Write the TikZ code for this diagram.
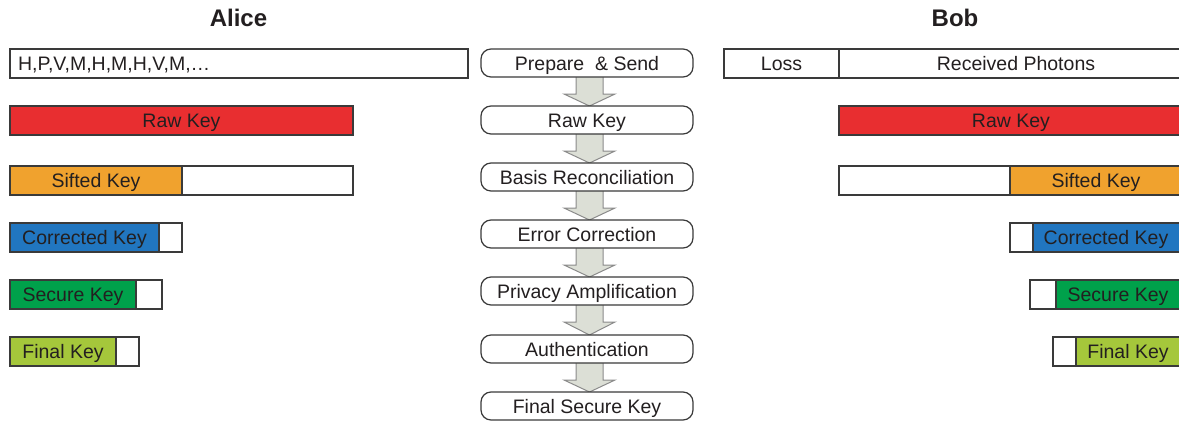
\documentclass[tikz,border=0pt]{standalone}
\usepackage{fontspec}
\setmainfont{Liberation Sans}
\usetikzlibrary{calc,backgrounds}

\definecolor{ink}{HTML}{231F20}
\definecolor{edge}{HTML}{3A3A3A}
\definecolor{keyred}{HTML}{E82E30}
\definecolor{keyorange}{HTML}{F0A22E}
\definecolor{keyblue}{HTML}{2176C0}
\definecolor{keygreen}{HTML}{00A14B}
\definecolor{keylime}{HTML}{A5C73B}
\definecolor{arrowfill}{HTML}{DCDFD6}
\definecolor{arrowedge}{HTML}{8A8A8A}

\tikzset{
  bar/.style={draw=edge, line width=1.2pt, fill=white, inner sep=0pt, outer sep=0pt,
    minimum height=29pt, anchor=north west, text=ink,
    font=\fontsize{19.5}{22}\selectfont, text height=14pt, text depth=0pt},
  stage/.style={draw=edge, line width=1.2pt, fill=white, rounded corners=10pt,
    inner sep=0pt, outer sep=0pt, minimum width=212pt, minimum height=28pt,
    anchor=north, text=ink, font=\fontsize{19.5}{22}\selectfont,
    text height=14pt, text depth=0pt},
  party/.style={font=\fontsize{24}{28}\selectfont\bfseries, text=ink, inner sep=0pt},
  blockarrow/.style={draw=arrowedge, fill=arrowfill, line width=1pt, line join=miter}
}

\begin{document}
\begin{tikzpicture}[x=1pt, y=-1pt]
\useasboundingbox (0,0) rectangle (1179,421);
\clip (0,0) rectangle (1179,421);

% headings
\node[party] (alice) at (238.5,18) {Alice};
\node[party] (bob) at (955,18) {Bob};

% Alice's side
\node[bar, text width=442pt, inner xsep=8pt, align=left] (aSeq) at (10,49) {H,P,V,M,H,M,H,V,M,\dots};
\node[bar, fill=keyred, minimum width=343pt] (aRaw) at (10,106) {Raw Key};
\node[bar, fill=keyorange, minimum width=172pt] (aSift) at (10,166) {Sifted Key};
\node[bar, minimum width=171pt] (aSiftRest) at (aSift.north east) {};
\node[bar, fill=keyblue, minimum width=149pt] (aCorr) at (10,223) {Corrected Key};
\node[bar, minimum width=23pt] (aCorrRest) at (aCorr.north east) {};
\node[bar, fill=keygreen, minimum width=126pt] (aSec) at (10,280) {Secure Key};
\node[bar, minimum width=26pt] (aSecRest) at (aSec.north east) {};
\node[bar, fill=keylime, minimum width=106pt] (aFin) at (10,337) {Final Key};
\node[bar, minimum width=23pt] (aFinRest) at (aFin.north east) {};

% Bob's side (the bars run on past the right edge)
\node[bar, minimum width=115pt] (bLoss) at (724,49) {Loss};
\node[bar, minimum width=351pt] (bRecv) at (bLoss.north east) {\hspace*{3pt}Received Photons};
\node[bar, fill=keyred, minimum width=351pt] (bRaw) at (839,106) {\hspace*{-7pt}Raw Key};
\node[bar, minimum width=171pt] (bSiftRest) at (839,166) {};
\node[bar, fill=keyorange, minimum width=180pt] (bSift) at (bSiftRest.north east) {\hspace*{-8pt}Sifted Key};
\node[bar, minimum width=23pt] (bCorrRest) at (1010,223) {};
\node[bar, fill=keyblue, minimum width=157pt] (bCorr) at (bCorrRest.north east) {\hspace*{-11pt}Corrected Key};
\node[bar, minimum width=26pt] (bSecRest) at (1030,280) {};
\node[bar, fill=keygreen, minimum width=134pt] (bSec) at (bSecRest.north east) {\hspace*{-10pt}Secure Key};
\node[bar, minimum width=23pt] (bFinRest) at (1053,337) {};
\node[bar, fill=keylime, minimum width=114pt] (bFin) at (bFinRest.north east) {\hspace*{-10pt}Final Key};

% protocol stages
\node[stage] (s1) at (587,49) {Prepare~ \& Send};
\node[stage] (s2) at (587,106) {Raw Key};
\node[stage] (s3) at (587,163) {Basis Reconciliation};
\node[stage] (s4) at (587,220) {Error Correction};
\node[stage] (s5) at (587,277) {Privacy Amplification};
\node[stage] (s6) at (587,335) {Authentication};
\node[stage] (s7) at (587,392) {Final Secure Key};

% block arrows between consecutive stages
\begin{scope}[on background layer]
\foreach \a/\b in {s1/s2,s2/s3,s3/s4,s4/s5,s5/s6,s6/s7}{
  \draw[blockarrow]
    ($(\a.south)+(-11,-2)$) -- ($(\a.south)+(16,-2)$) -- ($(\a.south)+(16,17)$)
    -- ($(\a.south)+(28,17)$) -- ($(\b.north)+(2.5,0)$)
    -- ($(\a.south)+(-23,17)$) -- ($(\a.south)+(-11,17)$) -- cycle;
}
\end{scope}
\end{tikzpicture}
\end{document}
